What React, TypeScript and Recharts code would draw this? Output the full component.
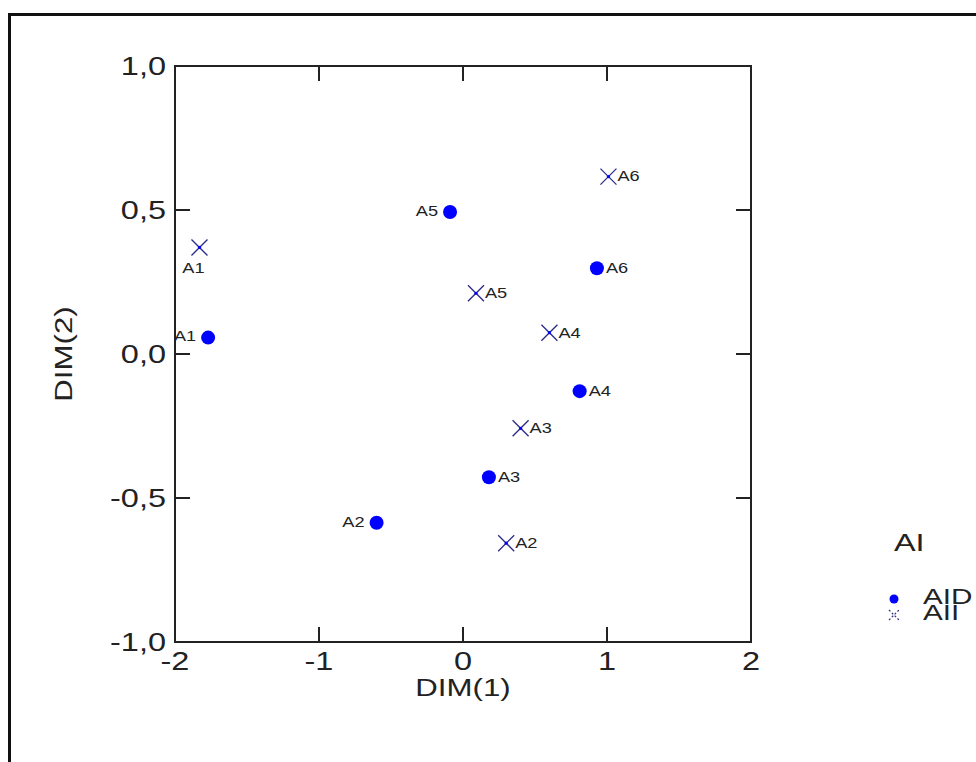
import { ScatterChart, Scatter, XAxis, YAxis, Legend, ReferenceArea, ReferenceLine } from 'recharts';

const SERIES_NAMES = ['AID', 'AII'];
const LEGEND_TITLE = 'AI';
const POINT_NAMES = ['A1', 'A2', 'A3', 'A4', 'A5', 'A6'];
const AID_X = [-1.77, -0.6, 0.18, 0.81, -0.09, 0.93];
const AID_Y = [0.057, -0.586, -0.428, -0.129, 0.493, 0.298];
const AII_X = [-1.83, 0.3, 0.4, 0.6, 0.09, 1.01];
const AII_Y = [0.37, -0.657, -0.258, 0.074, 0.211, 0.616];
const X_TICKS = [-2, -1, 0, 1, 2];
const Y_TICKS = [-1, -0.5, 0, 0.5, 1];
const INNER_X_TICKS = [-1, 0, 1];
const INNER_Y_TICKS = [-0.5, 0, 0.5];

// label placement per point (style only)
const AID_SIDE: Record<string, string> = { A1: 'left', A2: 'left', A5: 'left' };
const AII_SIDE: Record<string, string> = { A1: 'below' };

const FONT = '"Liberation Sans", Arial, sans-serif';
const AID_COLOR = '#0000ff';
const AII_COLOR = '#2a2a88';
const AXIS = '#222';
const TXT = '#222';
const SX = 1.3; // the original's lettering is wide

// plot box is 576 x 576 px for 4 x 2 data units; ticks are 15px long, inward
const TICK_DX = (15 / 576) * 4;
const TICK_DY = (15 / 576) * 2;

const aidData = POINT_NAMES.map((name, i) => ({ name, x: AID_X[i], y: AID_Y[i] }));
const aiiData = POINT_NAMES.map((name, i) => ({ name, x: AII_X[i], y: AII_Y[i] }));

function WideText({ x, y, anchor = 'start', size = 25, dy = '0.35em', rotate = 0, children }: any) {
  return (
    <g transform={`translate(${x},${y}) rotate(${rotate}) scale(${SX},1)`}>
      <text x={0} y={0} dy={dy} textAnchor={anchor} fontSize={size} fontFamily={FONT} fill={TXT}>
        {children}
      </text>
    </g>
  );
}

function PointLabel({ cx, cy, name, side }: any) {
  if (side === 'left') return <WideText x={cx - 12} y={cy - 1} anchor="end" size={14}>{name}</WideText>;
  if (side === 'below') return <WideText x={cx - 6} y={cy + 21} anchor="middle" size={14}>{name}</WideText>;
  return <WideText x={cx + 9} y={cy} anchor="start" size={14}>{name}</WideText>;
}

const DotShape = (props: any) => {
  const { cx, cy, payload } = props;
  return (
    <g>
      <circle cx={cx} cy={cy} r={7} fill={AID_COLOR} />
      <PointLabel cx={cx} cy={cy} name={payload.name} side={AID_SIDE[payload.name]} />
    </g>
  );
};

const CrossShape = (props: any) => {
  const { cx, cy, payload } = props;
  const s = 8;
  return (
    <g>
      <line x1={cx - s} y1={cy - s} x2={cx + s} y2={cy + s} stroke={AII_COLOR} strokeWidth={1.3} />
      <line x1={cx - s} y1={cy + s} x2={cx + s} y2={cy - s} stroke={AII_COLOR} strokeWidth={1.3} />
      <circle cx={cx} cy={cy} r={1.6} fill={AID_COLOR} />
      <PointLabel cx={cx} cy={cy} name={payload.name} side={AII_SIDE[payload.name]} />
    </g>
  );
};

const XTick = ({ x, y, payload }: any) => (
  <WideText x={x} y={y} anchor="middle" dy="0.71em">{String(payload.value)}</WideText>
);
const YTick = ({ x, y, payload }: any) => (
  <WideText x={x} y={y} anchor="end">{payload.value.toFixed(1).replace('.', ',')}</WideText>
);

const XTitle = ({ viewBox }: any) => (
  <WideText x={viewBox.x + viewBox.width / 2} y={viewBox.y + 46} anchor="middle" size={24}>DIM(1)</WideText>
);
const YTitle = ({ viewBox }: any) => (
  <WideText x={viewBox.x} y={viewBox.y + viewBox.height / 2} anchor="middle" rotate={-90} size={24}>DIM(2)</WideText>
);

const legendText = (top: number, left: number, text: string, size: number, box: number) => (
  <div
    style={{
      position: 'absolute', left, top, height: box, lineHeight: `${box}px`, fontSize: size,
      whiteSpace: 'nowrap', transform: 'scaleX(1.35)', transformOrigin: 'left center',
    }}
  >
    {text}
  </div>
);

const LegendBox = () => (
  <div style={{ position: 'relative', width: 150, height: 110, fontFamily: FONT, color: TXT }}>
    {legendText(7, 14, LEGEND_TITLE, 24, 22)}
    <svg style={{ position: 'absolute', left: 0, top: 60 }} width={30} height={40}>
      <circle cx={14} cy={14} r={4.5} fill={AID_COLOR} />
      <g stroke={AII_COLOR} strokeWidth={1.2} strokeDasharray="2 2">
        <line x1={9} y1={25} x2={19} y2={35} />
        <line x1={9} y1={35} x2={19} y2={25} />
      </g>
    </svg>
    {SERIES_NAMES.map((name, i) => legendText(64 + i * 16, 43, name, 22, 16))}
  </div>
);

export default function App() {
  return (
    <div style={{ position: 'fixed', left: 0, top: 0, width: 976, height: 762, overflow: 'hidden', background: '#fff' }}>
      <div
        style={{
          position: 'absolute', left: 8, top: 13, width: 2000, height: 2000,
          borderLeft: '3px solid #111', borderTop: '3px solid #111',
        }}
      />
      <div style={{ position: 'absolute', left: 0, top: 0 }}>
        <ScatterChart width={976} height={762} margin={{ top: 66, right: 225, bottom: 65, left: 64 }}>
          <XAxis
            type="number" dataKey="x" domain={[-2, 2]} ticks={X_TICKS} allowDataOverflow
            height={55} tickSize={0} tickMargin={10} tickLine={false}
            axisLine={{ stroke: AXIS, strokeWidth: 2 }} tick={<XTick />}
            label={<XTitle />}
          />
          <YAxis
            type="number" dataKey="y" domain={[-1, 1]} ticks={Y_TICKS} allowDataOverflow
            width={111} tickSize={0} tickMargin={9} tickLine={false}
            axisLine={{ stroke: AXIS, strokeWidth: 2 }} tick={<YTick />}
            label={<YTitle />}
          />
          <ReferenceArea x1={-2} x2={2} y1={-1} y2={1} fill="none" stroke={AXIS} strokeWidth={2} />
          {INNER_X_TICKS.map((t) => (
            <ReferenceLine key={`b${t}`} segment={[{ x: t, y: -1 }, { x: t, y: -1 + TICK_DY }]} stroke={AXIS} strokeWidth={2} />
          ))}
          {INNER_X_TICKS.map((t) => (
            <ReferenceLine key={`t${t}`} segment={[{ x: t, y: 1 }, { x: t, y: 1 - TICK_DY }]} stroke={AXIS} strokeWidth={2} />
          ))}
          {INNER_Y_TICKS.map((t) => (
            <ReferenceLine key={`l${t}`} segment={[{ x: -2, y: t }, { x: -2 + TICK_DX, y: t }]} stroke={AXIS} strokeWidth={2} />
          ))}
          {INNER_Y_TICKS.map((t) => (
            <ReferenceLine key={`r${t}`} segment={[{ x: 2, y: t }, { x: 2 - TICK_DX, y: t }]} stroke={AXIS} strokeWidth={2} />
          ))}
          <Legend
            layout="horizontal" verticalAlign="middle" align="center"
            content={<LegendBox />}
            wrapperStyle={{ left: 880, top: 525, width: 150 }}
          />
          <Scatter name={SERIES_NAMES[0]} data={aidData} fill={AID_COLOR} shape={DotShape} isAnimationActive={false} />
          <Scatter name={SERIES_NAMES[1]} data={aiiData} fill={AII_COLOR} shape={CrossShape} isAnimationActive={false} />
        </ScatterChart>
      </div>
    </div>
  );
}
